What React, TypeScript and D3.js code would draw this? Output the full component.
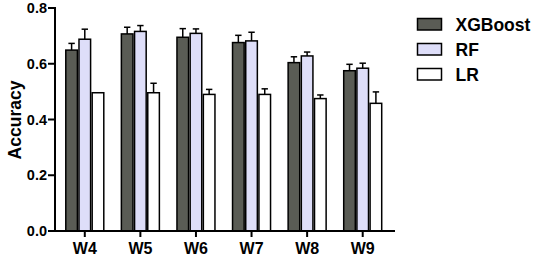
import React from "react";
import * as d3 from "d3";

const categories = ["W4", "W5", "W6", "W7", "W8", "W9"];
const seriesNames = ["XGBoost", "RF", "LR"];
const xgboost = [0.649, 0.707, 0.695, 0.676, 0.604, 0.575];
const xgboostErr = [0.024, 0.024, 0.031, 0.026, 0.021, 0.023];
const rf = [0.688, 0.716, 0.709, 0.682, 0.628, 0.584];
const rfErr = [0.036, 0.021, 0.016, 0.031, 0.014, 0.018];
const lr = [0.496, 0.496, 0.49, 0.49, 0.475, 0.458];
const lrErr = [0.0, 0.034, 0.018, 0.02, 0.013, 0.041];
const yTicks = [0, 0.2, 0.4, 0.6, 0.8];

const colors = ["#5a5c55", "#dedef9", "#ffffff"];
const FONT = "'Liberation Sans', Arial, Helvetica, sans-serif";

export default function App() {
  const W = 536;
  const H = 257;
  const axisX = 55;
  const x = d3.scaleBand<string>().domain(categories).range([57, 390.5]).padding(0);
  const y = d3.scaleLinear().domain([0, 0.8]).range([231, 8]);
  const sub = d3.scaleBand<string>().domain(seriesNames).range([-19, 19]).paddingInner(0.12);
  const series = [
    { name: "XGBoost", values: xgboost, err: xgboostErr },
    { name: "RF", values: rf, err: rfErr },
    { name: "LR", values: lr, err: lrErr },
  ];
  const bw = sub.bandwidth();

  return (
    <svg
      width={W}
      height={H}
      style={{ position: "absolute", left: 0, top: 0, background: "#fff" }}
      fontFamily={FONT}
    >
      {/* bars */}
      {series.map((s, si) => (
        <g key={s.name}>
          {categories.map((c, i) => {
            const cx = (x(c) as number) + x.bandwidth() / 2;
            const bx = cx + (sub(s.name) as number);
            const top = y(s.values[i]);
            const errTop = y(s.values[i] + s.err[i]);
            const mid = bx + bw / 2;
            return (
              <g key={c}>
                {s.err[i] > 0 && (
                  <g stroke="#000" strokeWidth={1.5}>
                    <line x1={mid} x2={mid} y1={top} y2={errTop} />
                    <line x1={mid - 3.2} x2={mid + 3.2} y1={errTop} y2={errTop} />
                  </g>
                )}
                <rect
                  x={bx}
                  y={top}
                  width={bw}
                  height={y(0) - top}
                  fill={colors[si]}
                  stroke="#000"
                  strokeWidth={1.5}
                />
              </g>
            );
          })}
        </g>
      ))}

      {/* y axis */}
      <line x1={axisX} x2={axisX} y1={y(0.8) - 1} y2={y(0) + 1} stroke="#000" strokeWidth={2} />
      {yTicks.map((t) => (
        <g key={t}>
          <line x1={axisX - 7} x2={axisX} y1={y(t)} y2={y(t)} stroke="#000" strokeWidth={2} />
          <text
            x={axisX - 8}
            y={y(t)}
            dy="0.36em"
            textAnchor="end"
            fontSize={14.5}
            fontWeight="bold"
            fill="#000"
          >
            {t.toFixed(1)}
          </text>
        </g>
      ))}

      {/* x axis */}
      <line x1={axisX - 1} x2={395} y1={y(0)} y2={y(0)} stroke="#000" strokeWidth={2} />
      {categories.map((c) => {
        const cx = (x(c) as number) + x.bandwidth() / 2;
        return (
          <g key={c}>
            <line x1={cx} x2={cx} y1={y(0)} y2={y(0) + 6} stroke="#000" strokeWidth={2} />
            <text x={cx} y={253.5} textAnchor="middle" fontSize={16} fontWeight="bold" fill="#000">
              {c}
            </text>
          </g>
        );
      })}

      {/* y label */}
      <text
        transform={`translate(21,120) rotate(-90)`}
        textAnchor="middle"
        fontSize={17.5}
        fontWeight="bold"
        fill="#000"
      >
        Accuracy
      </text>

      {/* legend */}
      {seriesNames.map((n, i) => (
        <g key={n} transform={`translate(417.5, ${18.5 + i * 25})`}>
          <rect x={0} y={0} width={24} height={11.5} fill={colors[i]} stroke="#000" strokeWidth={1.5} />
          <text x={38} y={6} dy="0.36em" fontSize={17.5} fontWeight="bold" fill="#000">
            {n}
          </text>
        </g>
      ))}
    </svg>
  );
}
